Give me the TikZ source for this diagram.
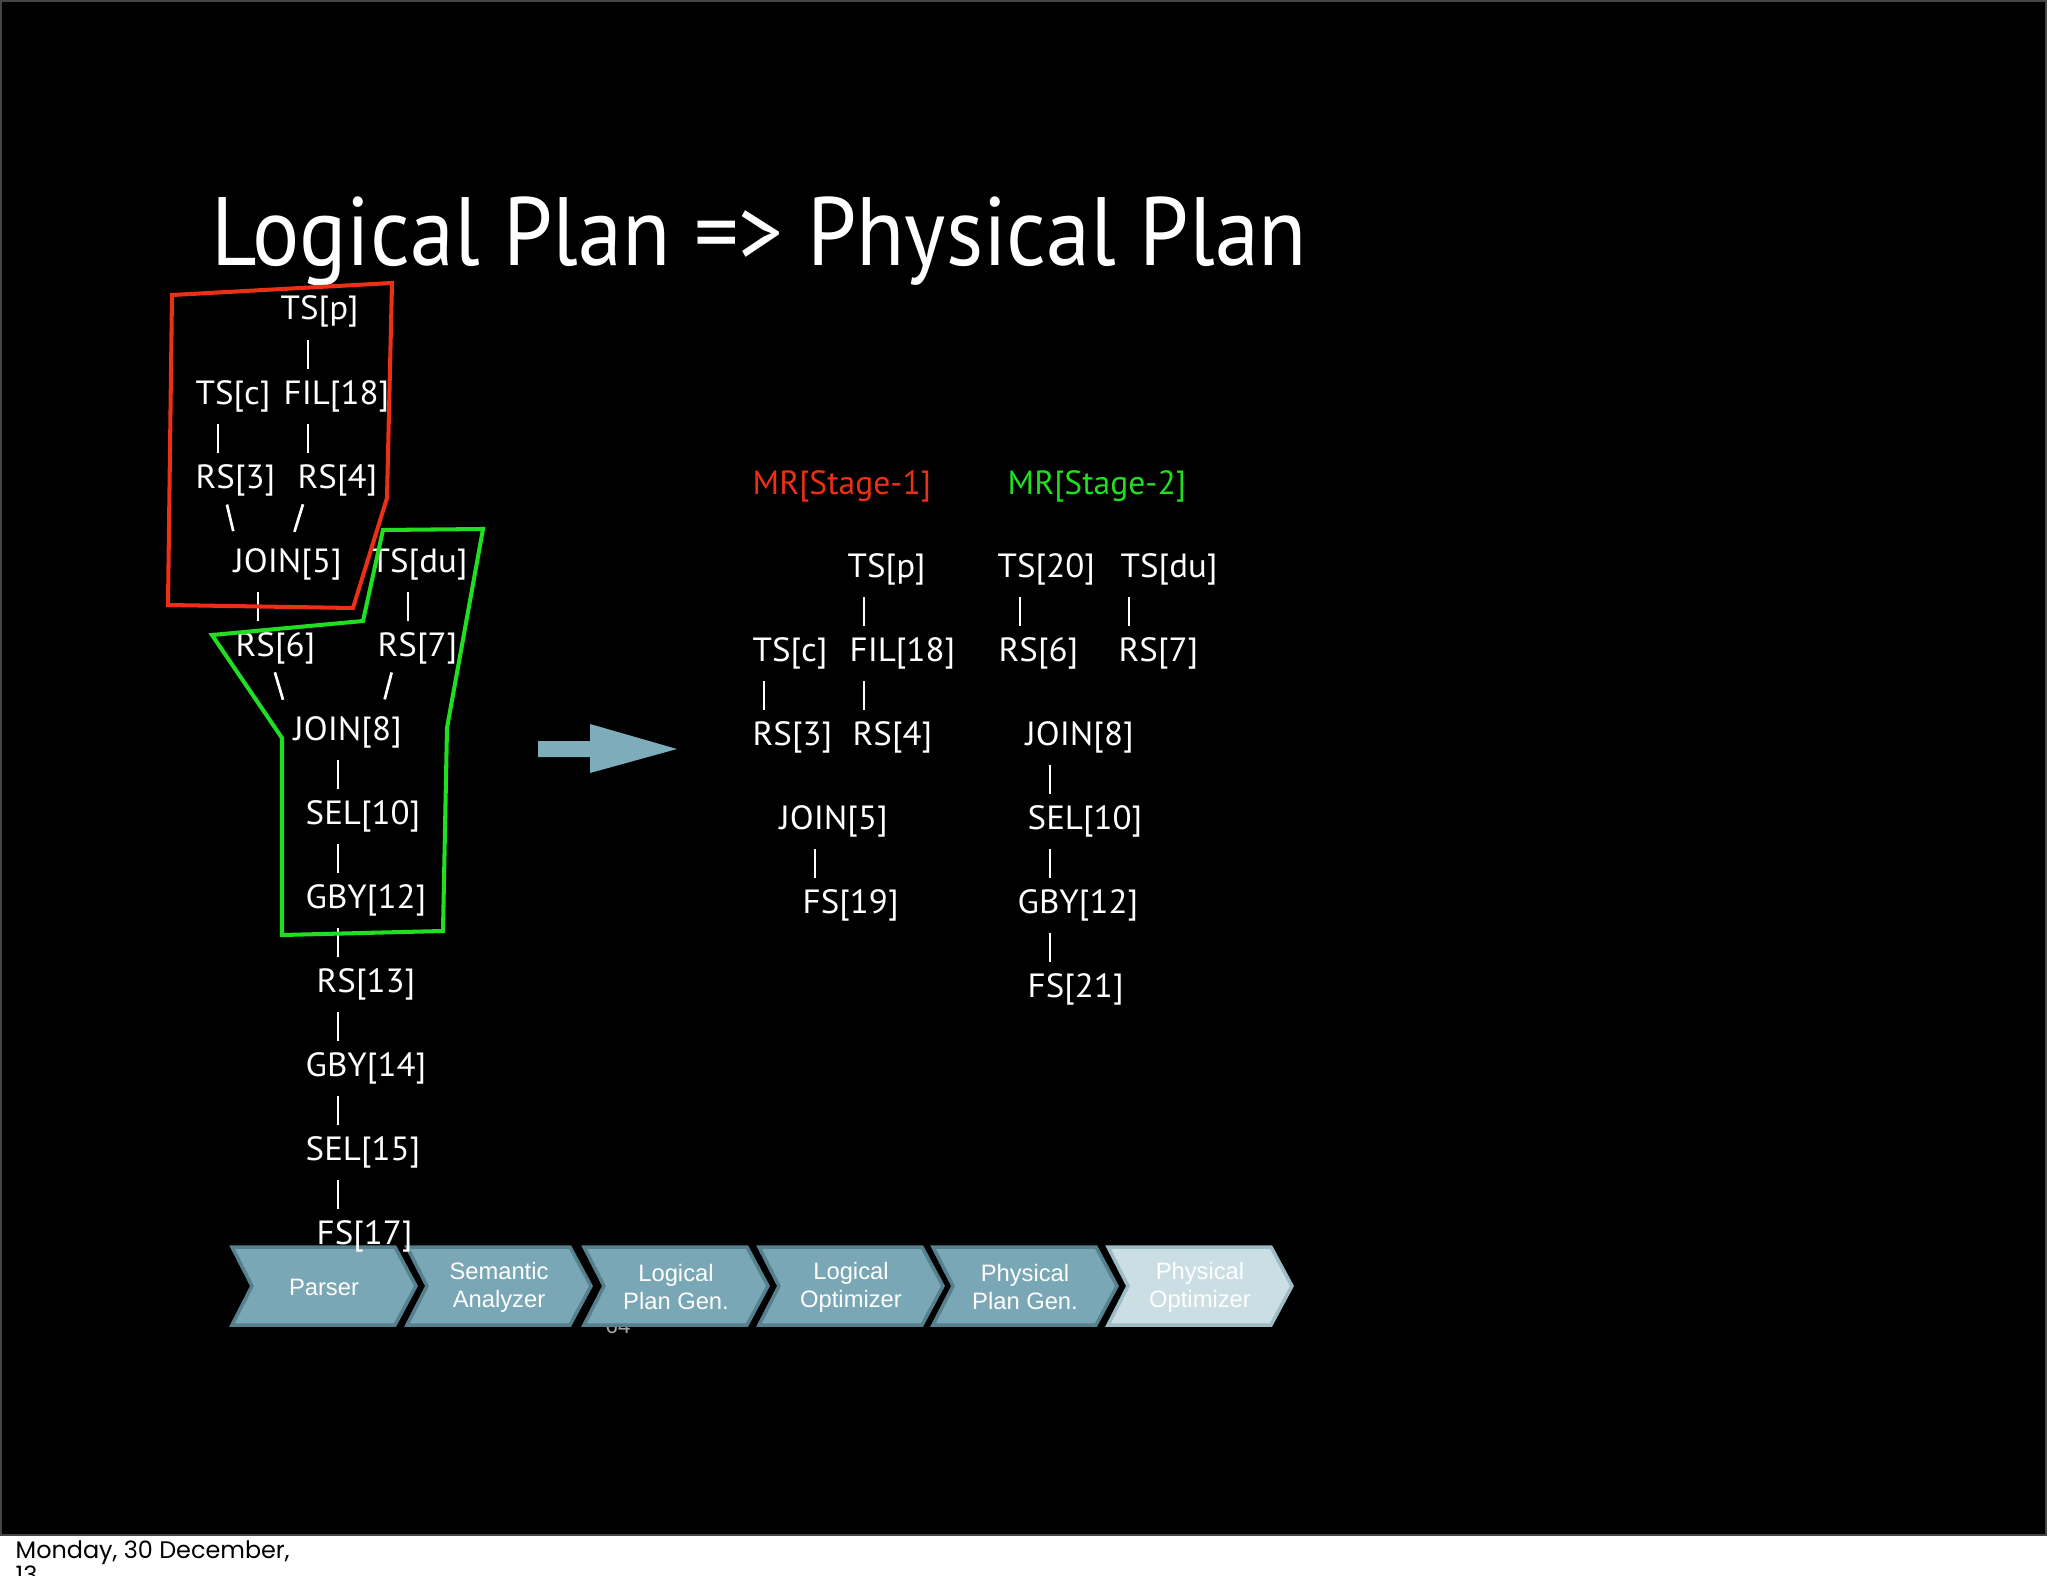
\documentclass[tikz,border=0pt]{standalone}
\usepackage{fontspec}
\newfontfamily\gill{PT Sans}
\newfontfamily\gillwide[FakeStretch=1.04]{PT Sans}
\newfontfamily\gillnarrow[FakeStretch=0.91]{PT Sans}
\newfontfamily\arial{Liberation Sans}
\newfontfamily\gothic{Poppins}
\definecolor{stageone}{RGB}{236,48,22}
\definecolor{stagetwo}{RGB}{32,222,32}
\definecolor{chevfill}{RGB}{122,167,181}
\definecolor{chevline}{RGB}{86,128,141}
\definecolor{chevlight}{RGB}{202,222,228}
\definecolor{chevlightline}{RGB}{158,188,198}
\definecolor{arrowblue}{RGB}{125,172,187}
\definecolor{framegray}{RGB}{70,70,70}
\tikzset{
  op/.style={text=white, inner sep=0pt, anchor=base west, font=\gillwide\fontsize{9.55}{11}\selectfont},
  mr/.style={op, font=\gill\fontsize{9.55}{11}\selectfont},
  bar/.style={draw=white, line width=0.77pt, shorten <=0.2cm, shorten >=0.35cm},
  slash/.style={bar, shorten <=0.17cm, shorten >=0.42cm},
  chev/.style={line width=1pt, line join=miter},
  stagelbl/.style={text=white, align=center, inner sep=0pt, font=\arial\fontsize{6.75}{8}\selectfont},
  foot/.style={anchor=base west, inner sep=0pt, text=black, font=\gothic\fontsize{6.8}{7.6}\selectfont},
}
\begin{document}
\begin{tikzpicture}[x=0.01cm, y=-0.01cm]
	\useasboundingbox (0,0) rectangle (2048,1576);
	% slide
	\fill[white] (0,0) rectangle (2048,1576);
	\fill[black] (0,0) rectangle (2047,1536);
	\draw[framegray, line width=0.6pt] (1,1) rectangle (2046,1535);
	\node[foot] (footer) at (15,1558) {Monday, 30 December,};
	\node[foot] (footeryear) at (15,1583) {13};
	\node[anchor=base west, inner sep=0pt, text=white, font=\gillnarrow\fontsize{27.6}{32}\selectfont] (title) at (211,265) {Logical Plan => Physical Plan};
	% slide number, under the chevrons
	\node[anchor=base, inner sep=0pt, text=gray!70, font=\arial\fontsize{6.3}{7}\selectfont] (slideno) at (618,1333) {64};
	% compiler stages
	\foreach \n/\x/\fc/\lc/\txt in {parser/232/chevfill/chevline/Parser,
		semantic/407/chevfill/chevline/{Semantic\\Analyzer},
		lpgen/584/chevfill/chevline/{Logical\\Plan Gen.},
		lopt/759/chevfill/chevline/{Logical\\Optimizer},
		ppgen/933/chevfill/chevline/{Physical\\Plan Gen.},
		popt/1108/chevlight/chevlightline/{Physical\\Optimizer}}
	{\draw[chev, fill=\fc, draw=\lc] (\x,1247) -- ++(163,0) -- ++(21,39) -- ++(-21,39) -- ++(-163,0) -- ++(20,-39) -- cycle;
	 \node[stagelbl] (\n) at (\x+92,1287) {\txt};}
	% logical plan
	\node[op] (Ltsp) at (280,320) {TS[p]};
	\node[op] (Ltsc) at (195,404) {TS[c]};
	\node[op] (Lfil) at (283,404) {FIL[18]};
	\node[op] (Lrsiii) at (195,488) {RS[3]};
	\node[op] (Lrsiv) at (297,488) {RS[4]};
	\node[op] (Ljoinv) at (233,572) {JOIN[5]};
	\node[op] (Ltsdu) at (370,572) {TS[du]};
	\node[op] (Lrsvi) at (235,656) {RS[6]};
	\node[op] (Lrsvii) at (377,656) {RS[7]};
	\node[op] (Ljoinviii) at (293,740) {JOIN[8]};
	\node[op] (Lselx) at (305,824) {SEL[10]};
	\node[op] (Lgbyxii) at (305,908) {GBY[12]};
	\node[op] (Lrsxiii) at (316,992) {RS[13]};
	\node[op] (Lgbyxiv) at (305,1076) {GBY[14]};
	\node[op] (Lselxv) at (305,1160) {SEL[15]};
	\node[op] (Lfsxvii) at (316,1244) {FS[17]};
	\draw[bar] (Ltsp.base -| 308,0) -- (Lfil.base -| 308,0);
	\draw[bar] (Ltsc.base -| 218,0) -- (Lrsiii.base -| 218,0);
	\draw[bar] (Lfil.base -| 308,0) -- (Lrsiv.base -| 308,0);
	\draw[slash] (Lrsiii.base -| 223,0) -- (Ljoinv.base -| 243,0);
	\draw[slash] (Lrsiv.base -| 308,0) -- (Ljoinv.base -| 282,0);
	\draw[bar] (Ljoinv.base -| 258,0) -- (Lrsvi.base -| 258,0);
	\draw[bar] (Ltsdu.base -| 408,0) -- (Lrsvii.base -| 408,0);
	\draw[slash] (Lrsvi.base -| 270,0) -- (Ljoinviii.base -| 295,0);
	\draw[slash] (Lrsvii.base -| 396,0) -- (Ljoinviii.base -| 374,0);
	\foreach \a/\b in {Ljoinviii/Lselx, Lselx/Lgbyxii, Lgbyxii/Lrsxiii, Lrsxiii/Lgbyxiv, Lgbyxiv/Lselxv, Lselxv/Lfsxvii}
	{\draw[bar] (\a.base -| 338,0) -- (\b.base -| 338,0);}
	% stage borders
	\draw[stageone, line width=1.15pt] (172,295) -- (392,283) -- (387,498) -- (353,608) -- (168,605) -- cycle;
	\draw[stagetwo, line width=1.15pt] (383,530) -- (483,529) -- (447,728) -- (443,931) -- (282,935) -- (282,738) -- (212,635) -- (363,621) -- cycle;
	% arrow
	\fill[arrowblue] (538,741) -- (590,741) -- (590,724) -- (677,749) -- (590,773) -- (590,757) -- (538,757) -- cycle;
	% physical plan
	\node[mr, text=stageone] (mri) at (752,494) {MR[Stage-1]};
	\node[mr, text=stagetwo] (mrii) at (1007,494) {MR[Stage-2]};
	\node[op] (Rtsp) at (847,577) {TS[p]};
	\node[op] (Rtsxx) at (997,577) {TS[20]};
	\node[op] (Rtsdu) at (1120,577) {TS[du]};
	\node[op] (Rtsc) at (752,661) {TS[c]};
	\node[op] (Rfil) at (849,661) {FIL[18]};
	\node[op] (Rrsvi) at (998,661) {RS[6]};
	\node[op] (Rrsvii) at (1118,661) {RS[7]};
	\node[op] (Rrsiii) at (752,745) {RS[3]};
	\node[op] (Rrsiv) at (852,745) {RS[4]};
	\node[op] (Rjoinviii) at (1025,745) {JOIN[8]};
	\node[op] (Rjoinv) at (779,829) {JOIN[5]};
	\node[op] (Rselx) at (1027,829) {SEL[10]};
	\node[op] (Rfsxix) at (802,913) {FS[19]};
	\node[op] (Rgbyxii) at (1017,913) {GBY[12]};
	\node[op] (Rfsxxi) at (1027,997) {FS[21]};
	\draw[bar] (Rtsp.base -| 864,0) -- (Rfil.base -| 864,0);
	\draw[bar] (Rtsxx.base -| 1020,0) -- (Rrsvi.base -| 1020,0);
	\draw[bar] (Rtsdu.base -| 1129,0) -- (Rrsvii.base -| 1129,0);
	\draw[bar] (Rtsc.base -| 764,0) -- (Rrsiii.base -| 764,0);
	\draw[bar] (Rfil.base -| 864,0) -- (Rrsiv.base -| 864,0);
	\draw[bar] (Rjoinv.base -| 815,0) -- (Rfsxix.base -| 815,0);
	\foreach \a/\b in {Rjoinviii/Rselx, Rselx/Rgbyxii, Rgbyxii/Rfsxxi}
	{\draw[bar] (\a.base -| 1050,0) -- (\b.base -| 1050,0);}
\end{tikzpicture}
\end{document}
